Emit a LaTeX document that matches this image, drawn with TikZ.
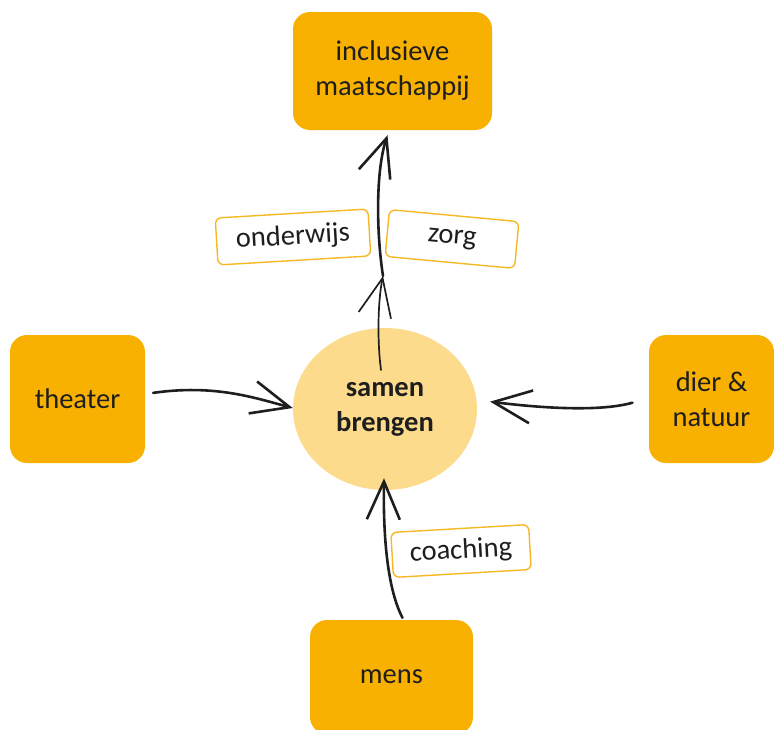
\documentclass[tikz,border=0pt]{standalone}
\usepackage{fontspec}
\setmainfont{Carlito}
\usetikzlibrary{arrows.meta,shapes.geometric}

\definecolor{boxorange}{HTML}{F8B100}
\definecolor{bubble}{HTML}{FCDB8D}
\definecolor{tagline}{HTML}{F6B823}
\definecolor{ink}{HTML}{1E1E1E}

\tikzset{
  block/.style={fill=boxorange, rounded corners=17pt, align=center, text=ink,
    font=\fontsize{28.5}{35}\selectfont, inner sep=0pt},
  tag/.style={draw=tagline, line width=1.4pt, fill=white, rounded corners=6pt,
    text=ink, font=\fontsize{28.5}{35}\selectfont, inner sep=0pt},
  sketch/.style={draw=ink, line width=2.6pt, line cap=round,
    -{Straight Barb[length=38pt,width=33pt]}},
}

\begin{document}
\begin{tikzpicture}[x=1pt,y=-1pt]
  \clip (0,0) rectangle (774,729);

  \node[block, minimum width=199pt, minimum height=118pt] (incl) at (392.5,71) {inclusieve\\maatschappij};
  \node[block, minimum width=135pt, minimum height=128pt] (theater) at (77.5,399) {theater};
  \node[block, minimum width=125pt, minimum height=128pt] (dier) at (711.5,399) {dier \&\\natuur};
  \node[block, minimum width=163pt, minimum height=114pt] (mens) at (391.5,677) {mens};

  \node[ellipse, fill=bubble, minimum width=184pt, minimum height=162pt, inner sep=0pt,
    align=center, text=ink, font=\fontsize{28.5}{35}\selectfont\bfseries] (samen) at (385,409) {samen\\brengen};

  \node[tag, minimum width=153pt, minimum height=47pt, rotate=3.4] (onderwijs) at (293,237) {onderwijs};
  \node[tag, minimum width=130pt, minimum height=47pt, rotate=-5.3] (zorg) at (452,239) {zorg};
  \node[tag, minimum width=138pt, minimum height=45pt, rotate=3.3] (coaching) at (461,551) {coaching};

  \coordinate (mid) at (383,276);

  \draw[sketch, line width=1.7pt] ([xshift=-4pt,yshift=39pt]samen.center) .. controls (377,340) and (378,300) .. (mid);
  \draw[sketch] (mid) .. controls (376,230) and (376,170) .. ([xshift=-5pt,yshift=-5pt]incl.south);
  \draw[sketch, shorten <=8pt] ([yshift=5pt]theater.east) .. controls (215,384) and (255,398) .. ([yshift=1pt]samen.west);
  \draw[sketch, shorten <=17pt, shorten >=13pt] ([yshift=1pt]dier.west) .. controls (600,412) and (540,408) .. ([yshift=9pt]samen.east);
  \draw[sketch] ([xshift=11pt,yshift=2pt]mens.north) .. controls (388,590) and (383,540) .. ([xshift=-1pt,yshift=12pt]samen.south);
\end{tikzpicture}
\end{document}
